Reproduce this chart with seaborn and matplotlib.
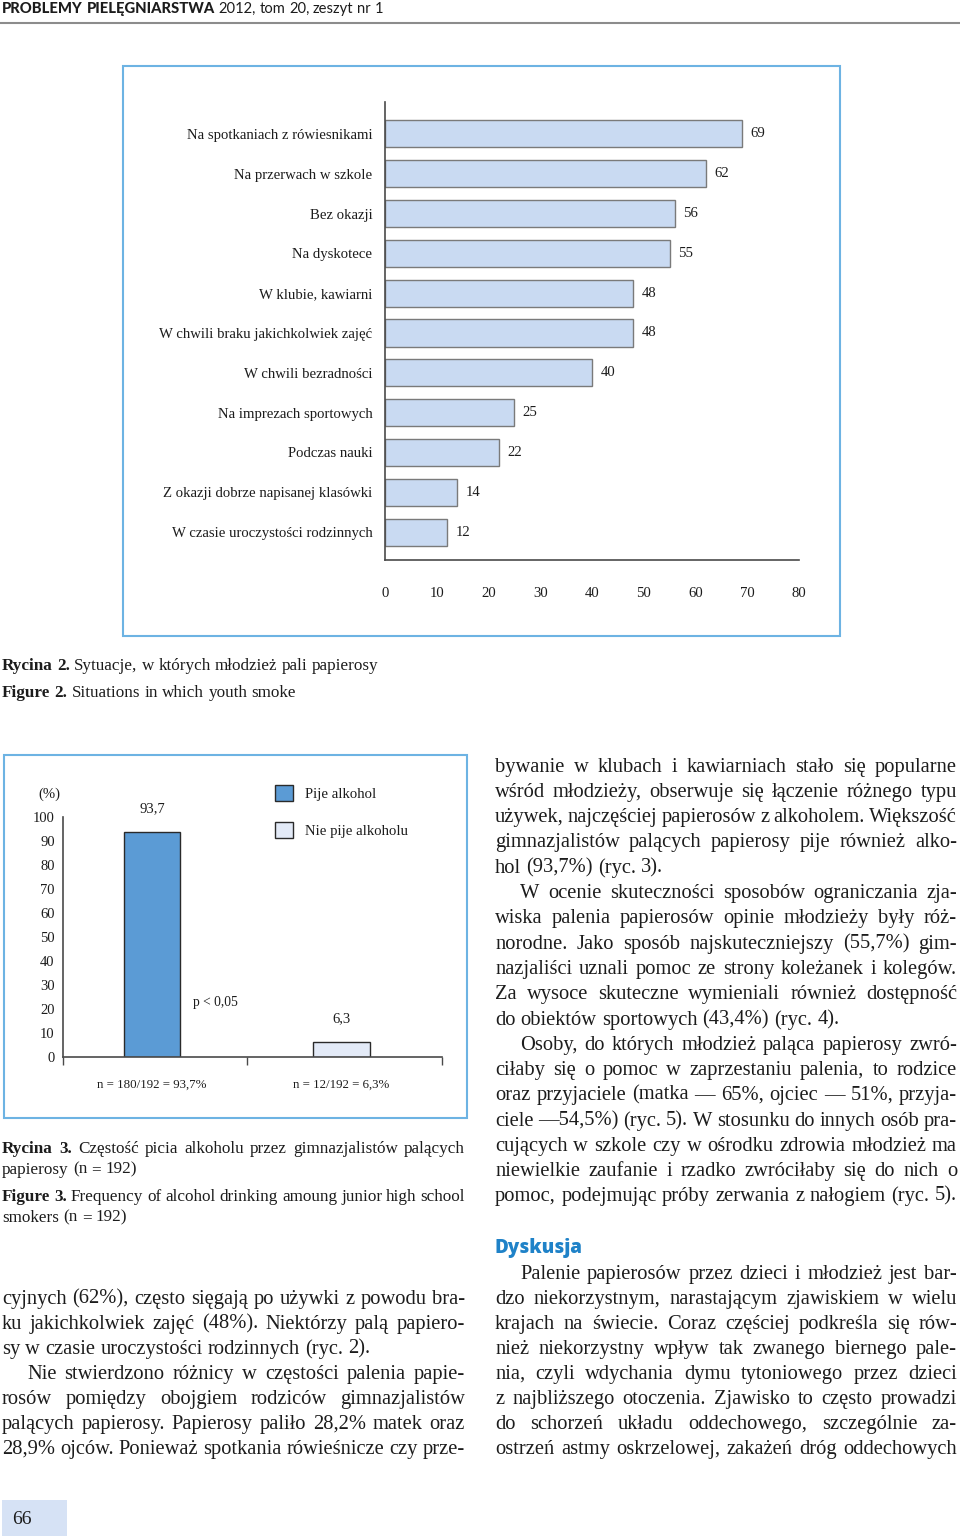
import numpy as np
import pandas as pd
import matplotlib
matplotlib.use('Agg')
import matplotlib.pyplot as plt
import seaborn as sns
from matplotlib.patches import Rectangle, Patch
from matplotlib.lines import Line2D

# ---- data: Rycina 2 ----
situations = [
    'Na spotkaniach z rówiesnikami',
    'Na przerwach w szkole',
    'Bez okazji',
    'Na dyskotece',
    'W klubie, kawiarni',
    'W chwili braku jakichkolwiek zajęć',
    'W chwili bezradności',
    'Na imprezach sportowych',
    'Podczas nauki',
    'Z okazji dobrze napisanej klasówki',
    'W czasie uroczystości rodzinnych',
]
situation_pct = [69, 62, 56, 55, 48, 48, 40, 25, 22, 14, 12]
situation_ticks = [0, 10, 20, 30, 40, 50, 60, 70, 80]

# ---- data: Rycina 3 ----
alcohol_groups = ['Pije alkohol', 'Nie pije alkoholu']
alcohol_pct = [93.7, 6.3]
alcohol_ticklabels = ['n = 180/192 = 93,7%', 'n = 12/192 = 6,3%']
alcohol_yticks = [0, 10, 20, 30, 40, 50, 60, 70, 80, 90, 100]

W, H = 960, 1539
SERIF = ['Liberation Serif', 'DejaVu Serif']
INK = '#1c1c1c'
FRAME = '#6db3e3'
AXIS = '#4a4a4a'

sns.set_style('white')
plt.rcParams['font.family'] = SERIF
plt.rcParams['text.color'] = INK
plt.rcParams['xtick.color'] = AXIS
plt.rcParams['ytick.color'] = AXIS
plt.rcParams['xtick.labelcolor'] = INK
plt.rcParams['ytick.labelcolor'] = INK

fig = plt.figure(figsize=(9.6, 15.39), dpi=100)
renderer = fig.canvas.get_renderer()


def fx(x):
    return x / W


def fy(y):
    return 1 - y / H


def px_axes(left, top, right, bottom):
    return fig.add_axes([fx(left), fy(bottom), (right - left) / W, (bottom - top) / H])


def frame(left, top, right, bottom, **kw):
    fig.add_artist(Rectangle((fx(left), fy(bottom)), (right - left) / W, (bottom - top) / H,
                             transform=fig.transFigure, **kw))


def words(s, weight='normal'):
    return [(w, weight) for w in s.split()]


def put_line(tokens, x0, x1, yc, size, justify=True, family=SERIF, color=INK):
    size_px = size * 100 / 72
    base = yc + 0.33 * size_px
    arts = []
    for w, weight in tokens:
        arts.append(fig.text(0, fy(base), w, fontsize=size, fontweight=weight,
                             family=family, color=color, va='baseline', ha='left'))
    widths = [a.get_window_extent(renderer).width for a in arts]
    space = 0.25 * size_px
    if justify and len(arts) > 1:
        gap = max((x1 - x0 - sum(widths)) / (len(arts) - 1), 0.5 * space)
    else:
        gap = space
    x = x0
    for a, wd in zip(arts, widths):
        a.set_position((fx(x), fy(base)))
        x += wd + gap
    return x


# ---- header ----
put_line(words('PROBLEMY PIELĘGNIARSTWA', 'black') + words('2012, tom 20, zeszyt nr 1'),
         2, 480, 8, 10.6, justify=False, family=['Lato', 'DejaVu Sans'])
fig.add_artist(Line2D([0, 1], [fy(23), fy(23)], transform=fig.transFigure,
                      color='#8c8c8c', lw=1.5))

# ---- Rycina 2 ----
frame(123, 66, 840, 636, fill=False, edgecolor=FRAME, lw=1.5)
ax1 = px_axes(385, 102, 799, 560)
df1 = pd.DataFrame({'sytuacja': situations, 'procent': situation_pct})
sns.barplot(data=df1, x='procent', y='sytuacja', orient='h', color='#c9daf2',
            edgecolor='#7a7a7a', linewidth=1, width=0.68, saturation=1, ax=ax1)
ax1.set_xlim(0, 80)
ax1.set_ylim(10.7, -0.8)
ax1.set_xticks(situation_ticks)
ax1.set_xlabel('')
ax1.set_ylabel('')
sns.despine(ax=ax1)
for s in ['left', 'bottom']:
    ax1.spines[s].set_color(AXIS)
    ax1.spines[s].set_linewidth(1.2)
ax1.tick_params(axis='y', length=0, pad=9, labelsize=10.6)
ax1.tick_params(axis='x', length=7, width=1, pad=12.5, labelsize=10.6, direction='out')
ax1.bar_label(ax1.containers[0], labels=[str(v) for v in situation_pct],
              padding=6, fontsize=10.6)

put_line(words('Rycina 2.', 'bold') + words('Sytuacje, w których młodzież pali papierosy'),
         2, 480, 664, 12.3, justify=False)
put_line(words('Figure 2.', 'bold') + words('Situations in which youth smoke'),
         2, 480, 691, 12.3, justify=False)

# ---- Rycina 3 ----
frame(4, 755, 467, 1118, fill=False, edgecolor=FRAME, lw=1.5)
ax2 = px_axes(63, 817, 442, 1057)
colors = ['#5b9bd5', '#e3eaf7']
sns.barplot(x=alcohol_groups, y=alcohol_pct, hue=alcohol_groups, palette=colors,
            width=0.3, edgecolor='#2a2a2a', linewidth=1, saturation=1,
            legend=False, ax=ax2)
ax2.set_xlim(-0.47, 1.53)
ax2.set_ylim(0, 100)
ax2.set_yticks(alcohol_yticks)
ax2.set_xticks([0, 1], labels=alcohol_ticklabels)
ax2.set_xticks([-0.47, 0.5, 1.53], minor=True)
ax2.set_xlabel('')
ax2.set_ylabel('')
sns.despine(ax=ax2)
for s in ['left', 'bottom']:
    ax2.spines[s].set_color(AXIS)
    ax2.spines[s].set_linewidth(1.2)
ax2.tick_params(axis='y', length=4, width=1, pad=2, labelsize=10.5, direction='out')
ax2.tick_params(axis='x', which='major', length=0, pad=16, labelsize=9.3)
ax2.tick_params(axis='x', which='minor', length=6, width=1, direction='out', bottom=True)
for cont, v in zip(ax2.containers, alcohol_pct):
    ax2.bar_label(cont, labels=[f'{v:.1f}'.replace('.', ',')], padding=12, fontsize=10.5)
ax2.text(0.337, 22.9, 'p < 0,05', ha='center', va='center', fontsize=9.8, clip_on=False)
ax2.text(-0.544, 109.6, '(%)', ha='center', va='center', fontsize=10.5, clip_on=False)
handles = [Patch(facecolor=c, edgecolor='#2a2a2a', lw=1) for c in colors]
fig.legend(handles, alcohol_groups, loc='upper left', bbox_to_anchor=(fx(275), fy(785)),
           frameon=False, borderpad=0, borderaxespad=0, handlelength=1.25,
           handleheight=1.25, handletextpad=0.8, labelspacing=1.45, fontsize=10.6)

put_line(words('Rycina 3.', 'bold') + words('Częstość picia alkoholu przez gimnazjalistów palących'),
         2, 465, 1147, 12.3, justify=True)
put_line(words('papierosy (n = 192)'), 2, 465, 1168, 12.3, justify=False)
put_line(words('Figure 3.', 'bold') + words('Frequency of alcohol drinking amoung junior high school'),
         2, 465, 1195, 12.3, justify=True)
put_line(words('smokers (n = 192)'), 2, 465, 1216, 12.3, justify=False)

# ---- body text ----
BODY = 14.8
left_col = [
    ('cyjnych (62%), często sięgają po używki z powodu bra-', 1297, 0, True),
    ('ku jakichkolwiek zajęć (48%). Niektórzy palą papiero-', 1322, 0, True),
    ('sy w czasie uroczystości rodzinnych (ryc. 2).', 1347, 0, False),
    ('Nie stwierdzono różnicy w częstości palenia papie-', 1372, 25, True),
    ('rosów pomiędzy obojgiem rodziców gimnazjalistów', 1397, 0, True),
    ('palących papierosy. Papierosy paliło 28,2% matek oraz', 1422, 0, True),
    ('28,9% ojców. Ponieważ spotkania rówieśnicze czy prze-', 1447, 0, True),
]
for s, y, ind, j in left_col:
    put_line(words(s), 2 + ind, 465, y, BODY, justify=j)

right_col = [
    ('bywanie w klubach i kawiarniach stało się popularne', 765, 0, True),
    ('wśród młodzieży, obserwuje się łączenie różnego typu', 790, 0, True),
    ('używek, najczęściej papierosów z alkoholem. Większość', 815, 0, True),
    ('gimnazjalistów palących papierosy pije również alko-', 840, 0, True),
    ('hol (93,7%) (ryc. 3).', 866, 0, False),
    ('W ocenie skuteczności sposobów ograniczania zja-', 891, 25, True),
    ('wiska palenia papierosów opinie młodzieży były róż-', 916, 0, True),
    ('norodne. Jako sposób najskuteczniejszy (55,7%) gim-', 942, 0, True),
    ('nazjaliści uznali pomoc ze strony koleżanek i kolegów.', 967, 0, True),
    ('Za wysoce skuteczne wymieniali również dostępność', 992, 0, True),
    ('do obiektów sportowych (43,4%) (ryc. 4).', 1018, 0, False),
    ('Osoby, do których młodzież paląca papierosy zwró-', 1043, 25, True),
    ('ciłaby się o pomoc w zaprzestaniu palenia, to rodzice', 1068, 0, True),
    ('oraz przyjaciele (matka — 65%, ojciec — 51%, przyja-', 1093, 0, True),
    ('ciele —54,5%) (ryc. 5). W stosunku do innych osób pra-', 1119, 0, True),
    ('cujących w szkole czy w ośrodku zdrowia młodzież ma', 1144, 0, True),
    ('niewielkie zaufanie i rzadko zwróciłaby się do nich o', 1169, 0, True),
    ('pomoc, podejmując próby zerwania z nałogiem (ryc. 5).', 1194, 0, True),
    ('Palenie papierosów przez dzieci i młodzież jest bar-', 1272, 25, True),
    ('dzo niekorzystnym, narastającym zjawiskiem w wielu', 1297, 0, True),
    ('krajach na świecie. Coraz częściej podkreśla się rów-', 1322, 0, True),
    ('nież niekorzystny wpływ tak zwanego biernego pale-', 1347, 0, True),
    ('nia, czyli wdychania dymu tytoniowego przez dzieci', 1372, 0, True),
    ('z najbliższego otoczenia. Zjawisko to często prowadzi', 1397, 0, True),
    ('do schorzeń układu oddechowego, szczególnie za-', 1422, 0, True),
    ('ostrzeń astmy oskrzelowej, zakażeń dróg oddechowych', 1447, 0, True),
]
for s, y, ind, j in right_col:
    put_line(words(s), 495 + ind, 957, y, BODY, justify=j)

put_line(words('Dyskusja', 'heavy'), 495, 957, 1247, 13.5, justify=False,
         family=['Open Sans', 'DejaVu Sans'], color='#1f82c8')

# ---- page number ----
frame(2, 1500, 67, 1536, facecolor='#d6e2f5', edgecolor='none')
put_line(words('66'), 12, 67, 1518, 14, justify=False)

fig.savefig('out.png', dpi=100)
